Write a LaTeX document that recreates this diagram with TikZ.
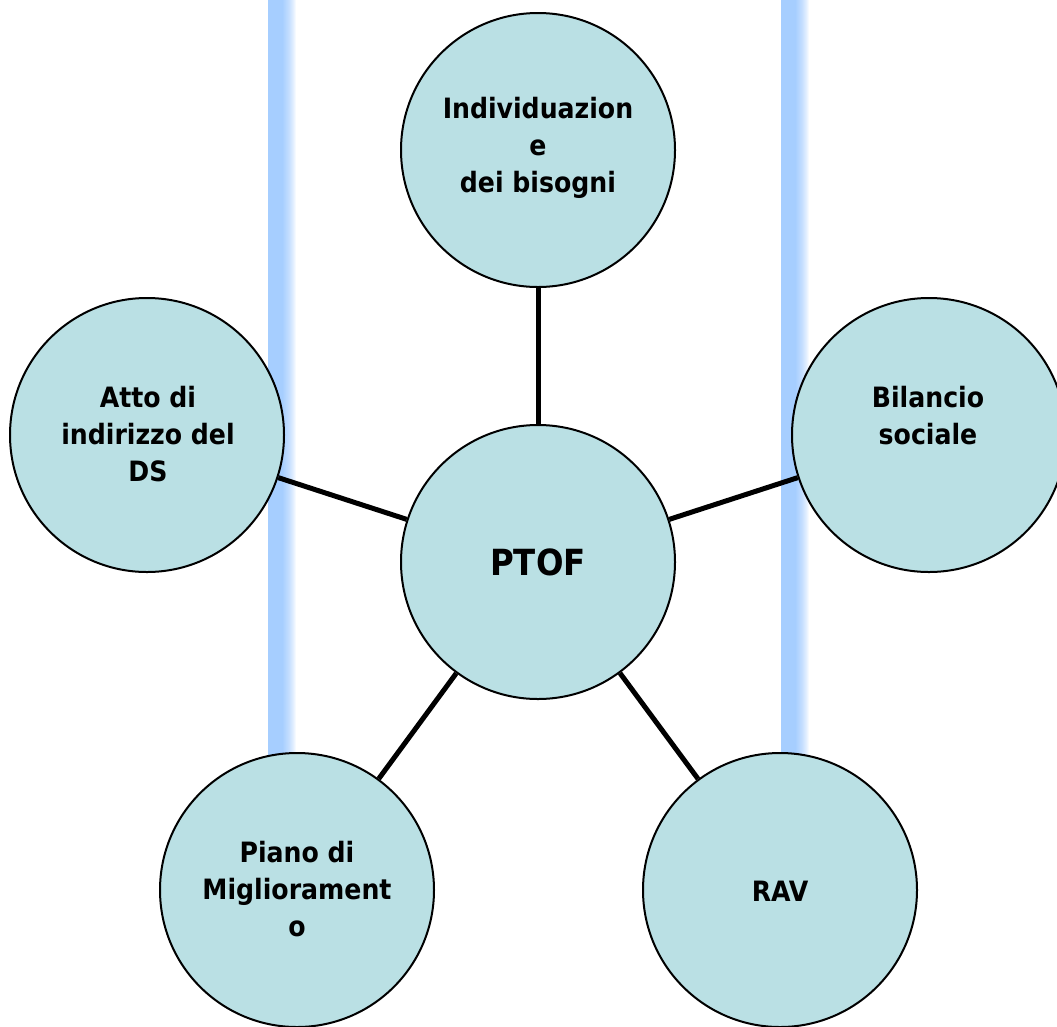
\documentclass[tikz,border=0pt]{standalone}
\usepackage{fontspec}
\setmainfont{DejaVu Sans Condensed}
\usetikzlibrary{shadings}
\definecolor{circfill}{RGB}{186,224,228}
\definecolor{barblue}{RGB}{166,206,255}
\definecolor{barmid}{RGB}{196,222,255}
\definecolor{barpale}{RGB}{228,240,255}
% light-blue band fading to white towards its right edge
% (the filled path spans 25bp..75bp of the shading)
\pgfdeclarehorizontalshading{pillarfade}{100bp}{
  color(0bp)=(barblue); color(25bp)=(barblue); color(50bp)=(barblue);
  color(62bp)=(barmid); color(70bp)=(barpale); color(75bp)=(white);
  color(100bp)=(white)}
\tikzset{
  bubble/.style={circle, draw=black, line width=2pt, fill=circfill,
                 minimum size=274pt, inner sep=0pt},
  caption/.style={align=center, inner sep=0pt, font=\bfseries\fontsize{28}{37}\selectfont},
  bigcaption/.style={align=center, inner sep=0pt, font=\bfseries\fontsize{36}{42}\selectfont},
  spoke/.style={line width=5pt, black},
  pillar/.style={shading=pillarfade, draw=none}
}
\begin{document}
\begin{tikzpicture}[x=1pt, y=-1pt]
  \useasboundingbox (0,0) rectangle (1057,1026);

  % vertical gradient pillars behind the circles
  \shade[pillar] (268,0) rectangle (296,800);
  \shade[pillar] (781,0) rectangle (809,800);

  % circles
  \node[bubble] (ptof)  at (538,562) {};
  \node[bubble] (need)  at (538,150) {};
  \node[bubble] (atto)  at (147,435) {};
  \node[bubble] (bil)   at (929,435) {};
  \node[bubble] (piano) at (297,890) {};
  \node[bubble] (rav)   at (780,890) {};

  % connectors from the centre
  \draw[spoke] (ptof) -- (need);
  \draw[spoke] (ptof) -- (atto);
  \draw[spoke] (ptof) -- (bil);
  \draw[spoke] (ptof) -- (piano);
  \draw[spoke] (ptof) -- (rav);

  % captions
  \node[bigcaption] (ptof-t)  at (538,562) {PTOF};
  \node[caption]    (need-t)  at (538,148) {Individuazion\\e\\dei bisogni};
  \node[caption]    (atto-t)  at (148,434) {Atto di\\indirizzo del\\DS};
  \node[caption]    (bil-t)   at (928,416) {Bilancio\\sociale};
  \node[caption]    (piano-t) at (297,889) {Piano di\\Migliorament\\o};
  \node[caption]    (rav-t)   at (780,891) {RAV};
\end{tikzpicture}
\end{document}
